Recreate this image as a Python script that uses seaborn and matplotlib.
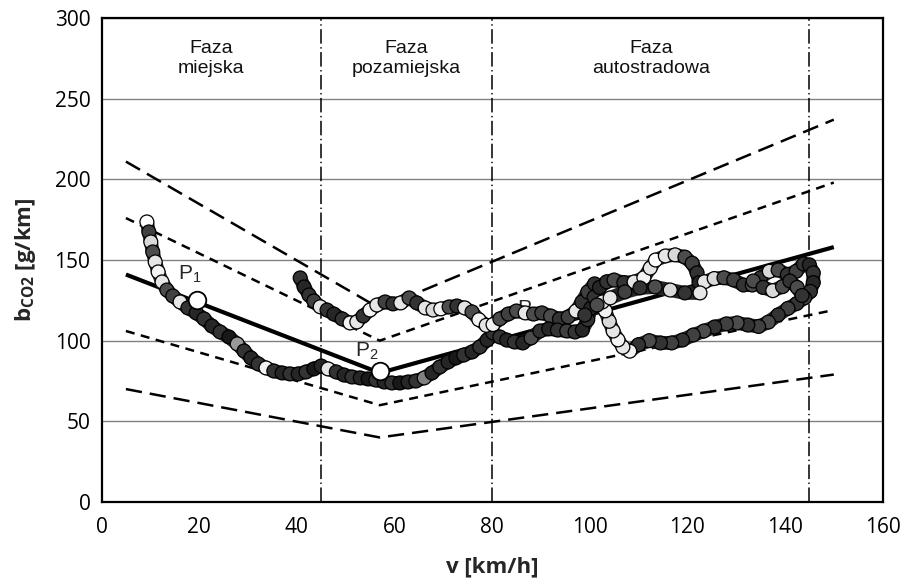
import matplotlib
matplotlib.use("Agg")
import matplotlib.pyplot as plt
import numpy as np
import pandas as pd
import seaborn as sns

# ---------------- data ----------------
x_ticks = [0, 20, 40, 60, 80, 100, 120, 140, 160]
y_ticks = [0, 50, 100, 150, 200, 250, 300]

phase_bounds = [45, 80, 145]
phase_names = ["Faza\nmiejska", "Faza\npozamiejska", "Faza\nautostradowa"]
phase_centers = [22.5, 62.5, 112.5]

# reference V-shaped lines (speed, bCO2)
ref_v = [5, 57, 150]
ref_mid = [141, 80, 158]
ref_up_long = [211, 120, 237]
ref_up_short = [176, 100, 198]
ref_lo_short = [106, 60, 119]
ref_lo_long = [70, 40, 79]

# characteristic points (P3 marker is hidden under the measured points)
p_names = ["P$_1$", "P$_2$", "P$_3$"]
p_v = [19.5, 57.0]
p_b = [125.0, 81.0]
p_label_v = [15.7, 51.9, 85.1]
p_label_b = [137.6, 89.9, 116.0]

# measured trajectory - urban + lower extra-urban track
v_city = [9.3, 9.7, 10.1, 10.5, 11.0, 11.6, 12.4, 13.4, 14.6, 16.1, 17.7, 19.4, 21.0, 22.6,
          24.3, 26.1, 27.8, 29.2, 30.6, 32.1, 33.7, 35.3, 37.0, 38.6, 40.3, 41.9, 43.5, 45.0,
          46.4, 48.1, 49.7, 51.3, 53.0, 54.6, 56.2, 57.9, 59.5, 61.1, 62.8, 64.4, 66.1, 67.7,
          69.3, 71.0, 72.6, 74.2, 75.9, 77.5, 79.0, 80.2]
b_city = [173.6, 167.4, 161.2, 155.0, 148.8, 142.6, 136.4, 131.4, 127.7, 124.0, 120.3, 117.2,
          113.5, 109.1, 105.4, 102.3, 98.0, 93.6, 89.3, 85.6, 83.1, 81.2, 80.0, 79.4, 79.4,
          80.6, 82.5, 84.3, 82.5, 80.6, 78.7, 77.5, 76.9, 76.3, 75.6, 74.4, 73.8, 73.8, 74.4,
          75.0, 76.9, 80.0, 83.7, 86.8, 89.3, 91.1, 93.0, 96.1, 100.4, 104.8]
s_city = [1.0, 0.25, 0.85, 0.3, 0.9, 0.95, 0.9, 0.3, 0.25, 0.9, 0.2, 0.15, 0.2, 0.15,
          0.2, 0.1, 0.6, 0.2, 0.15, 0.2, 0.95, 0.2, 0.15, 0.2, 0.15, 0.2, 0.1, 0.15,
          0.9, 0.2, 0.15, 0.2, 0.15, 0.1, 0.2, 0.15, 0.2, 0.1, 0.15, 0.2, 0.5, 0.15,
          0.2, 0.15, 0.1, 0.2, 0.15, 0.2, 0.15, 0.2]

# upper extra-urban track
v_pozam = [40.7, 41.5, 42.5, 43.5, 44.8, 46.2, 47.6, 49.3, 50.9, 52.3, 53.6, 55.0, 56.4, 58.1,
           59.7, 61.3, 63.0, 64.6, 66.3, 67.9, 69.5, 71.2, 72.8, 74.4, 75.9, 77.3, 78.8, 80.2,
           81.6, 83.3, 85.0, 86.8, 88.5, 90.2, 92.0, 93.8, 95.6, 97.2, 98.4, 99.6, 101.0]
b_pozam = [138.9, 133.3, 128.3, 124.6, 121.0, 119.0, 116.5, 113.5, 111.0, 111.6, 115.3, 119.0,
           122.1, 124.0, 122.8, 123.4, 126.5, 123.4, 120.3, 119.0, 119.7, 120.9, 121.5, 120.3,
           117.8, 113.0, 109.5, 110.0, 113.5, 116.5, 118.4, 117.2, 116.5, 117.2, 115.3, 113.5,
           114.7, 118.4, 124.0, 130.2, 135.2]
s_pozam = [0.2, 0.15, 0.2, 0.25, 0.9, 0.2, 0.15, 0.2, 0.95, 0.9, 0.2, 0.95, 0.9, 0.25,
           0.2, 0.9, 0.3, 0.2, 0.9, 0.85, 0.95, 0.3, 0.2, 0.9, 0.3, 0.95, 0.9, 0.95,
           0.3, 0.25, 0.3, 0.9, 0.3, 0.25, 0.3, 0.2, 0.25, 0.9, 0.2, 0.25, 0.2]

# motorway loop
v_auto = [81.6, 83.0, 84.6, 86.3, 88.0, 89.8, 91.6, 93.4, 95.3, 97.0, 98.5, 99.6, 100.2, 100.9,
          102.0, 103.5, 105.0, 107.0, 109.1, 111.1, 112.4, 113.5, 115.5, 117.5, 119.5, 121.0,
          122.0, 122.4, 123.5, 125.5, 127.5, 129.5, 131.5, 133.3, 135.0, 136.8, 138.6, 140.5,
          142.3, 143.8, 145.0, 145.8, 145.8, 145.2, 144.0, 142.4, 140.6, 138.6, 136.6, 134.6,
          132.4, 130.2, 128.0, 125.6, 123.4, 121.2, 119.0, 116.8, 114.5, 112.2, 110.0, 108.2,
          106.8, 105.8, 104.8, 104.0, 103.2, 102.6]
b_auto = [102.3, 100.4, 99.2, 98.6, 101.7, 106.0, 107.3, 106.6, 106.0, 105.4, 106.6, 113.0,
          120.0, 127.0, 133.0, 136.5, 137.6, 136.0, 136.4, 139.0, 145.0, 150.0, 152.5, 153.2,
          151.8, 148.0, 142.0, 136.0, 136.5, 138.5, 139.0, 137.6, 134.5, 134.5, 139.0, 143.0,
          143.8, 141.0, 143.0, 147.5, 147.0, 142.0, 136.0, 130.5, 126.5, 123.0, 120.0, 116.0,
          111.5, 108.8, 109.7, 111.0, 110.4, 108.5, 106.0, 103.5, 100.4, 98.6, 98.6, 100.0,
          97.5, 93.5, 96.0, 100.5, 106.0, 112.0, 118.5, 124.0]
s_auto = [0.2, 0.15, 0.2, 0.15, 0.3, 0.2, 0.15, 0.2, 0.25, 0.2, 0.15, 0.2, 0.15, 0.2,
          0.15, 0.2, 0.3, 0.2, 0.9, 0.95, 0.9, 1.0, 0.9, 0.85, 0.3, 0.25,
          0.2, 0.15, 0.9, 0.85, 0.3, 0.25, 0.2, 0.3, 0.2, 0.85, 0.3, 0.2,
          0.25, 0.2, 0.15, 0.2, 0.15, 0.2, 0.25, 0.2, 0.25, 0.2, 0.3, 0.25,
          0.2, 0.3, 0.25, 0.2, 0.3, 0.25, 0.2, 0.25, 0.2, 0.3, 0.2, 0.95,
          0.9, 0.95, 0.9, 0.85, 0.95, 0.9]

# inner motorway tracks
v_inner = [99.0, 101.5, 104.2, 107.2, 110.3, 113.4, 116.5, 119.5, 122.6]
b_inner = [115.9, 122.1, 126.5, 130.2, 132.7, 133.3, 131.4, 129.6, 129.6]
s_inner = [0.2, 0.3, 0.9, 0.25, 0.2, 0.3, 0.85, 0.2, 0.9]

v_knot = [133.5, 135.5, 137.5, 139.5, 141.0, 142.5, 143.5]
b_knot = [137.0, 133.0, 131.0, 133.5, 137.0, 133.0, 128.0]
s_knot = [0.3, 0.2, 0.85, 0.3, 0.2, 0.3, 0.2]

segments = [("city", v_city, b_city, s_city),
            ("pozam", v_pozam, b_pozam, s_pozam),
            ("auto", v_auto, b_auto, s_auto),
            ("inner", v_inner, b_inner, s_inner),
            ("knot", v_knot, b_knot, s_knot)]
traj = pd.concat([pd.DataFrame({"v": v, "b": b, "shade": s, "seg": name})
                  for name, v, b, s in segments], ignore_index=True)

# ---------------- style ----------------
sns.set_theme(style="white")
plt.rcParams["font.family"] = ["Open Sans", "DejaVu Sans"]
plt.rcParams["mathtext.fontset"] = "custom"
plt.rcParams["mathtext.rm"] = "Liberation Sans"
plt.rcParams["mathtext.it"] = "Liberation Sans:italic"
plt.rcParams["mathtext.bf"] = "Open Sans:bold"

W, H = 906, 582
fig = plt.figure(figsize=(W / 100, H / 100), dpi=100)
ax = fig.add_axes([101.5 / W, 80 / H, (882.6 - 101.5) / W, 484 / H])

ax.set_xlim(0, 160)
ax.set_ylim(0, 300)
ax.set_xticks(x_ticks)
ax.set_yticks(y_ticks)
ax.yaxis.grid(True, color="#808080", lw=1.0, zorder=0)
ax.xaxis.grid(False)
ax.set_axisbelow(True)

for xb in phase_bounds:
    ax.axvline(xb, color="black", lw=1.1, dashes=(9.5, 2.3, 0.9, 2.3), zorder=1)

for name, xc in zip(phase_names, phase_centers):
    ax.text(xc, 275, name, ha="center", va="center", fontsize=14,
            family="Liberation Sans", linespacing=1.2, color="#111111")

def ref_line(vals, dash, lw):
    sns.lineplot(x=ref_v, y=vals, ax=ax, color="black", lw=lw, sort=False,
                 estimator=None, zorder=2)
    ln = ax.lines[-1]
    if dash is not None:
        ln.set_dashes(dash)
    ln.set_solid_capstyle("butt")

ref_line(ref_up_long, (6.5, 3.2), 1.8)
ref_line(ref_lo_long, (6.5, 3.2), 1.8)
ref_line(ref_up_short, (3.6, 2.6), 1.8)
ref_line(ref_lo_short, (3.6, 2.6), 1.8)
ref_line(ref_mid, None, 3.0)

# P3 label lies under the cloud of points
ax.text(p_label_v[2], p_label_b[2], p_names[2], fontsize=15, family="Liberation Sans",
        va="baseline", ha="left", zorder=3)

# tube of the trajectory
sns.lineplot(data=traj, x="v", y="b", units="seg", estimator=None, sort=False,
             color="#262626", lw=10, ax=ax, zorder=4, legend=False,
             solid_capstyle="round", solid_joinstyle="round")

sns.scatterplot(data=traj, x="v", y="b", hue="shade", palette="gray",
                hue_norm=(0, 1), s=100, edgecolor="black", linewidth=0.9,
                ax=ax, zorder=5, legend=False)

sns.scatterplot(x=p_v, y=p_b, ax=ax, s=160, color="white",
                edgecolor="black", linewidth=1.3, zorder=6, legend=False)
for i in range(2):
    ax.text(p_label_v[i], p_label_b[i], p_names[i], fontsize=15, family="Liberation Sans",
            va="baseline", ha="left", zorder=7)

for sp in ax.spines.values():
    sp.set_color("black")
    sp.set_linewidth(1.6)
    sp.set_visible(True)

ax.tick_params(axis="both", direction="in", length=6, width=1.2, colors="black",
               labelsize=15)
ax.tick_params(axis="x", pad=11)
ax.tick_params(axis="y", pad=8)
ax.set_xlabel("v [km/h]", fontsize=16, fontweight="bold", labelpad=13)
ax.set_ylabel(r"b$_{\mathbf{CO2}}$ [g/km]", fontsize=16, fontweight="bold", labelpad=12)

fig.savefig("out.png", dpi=100)
